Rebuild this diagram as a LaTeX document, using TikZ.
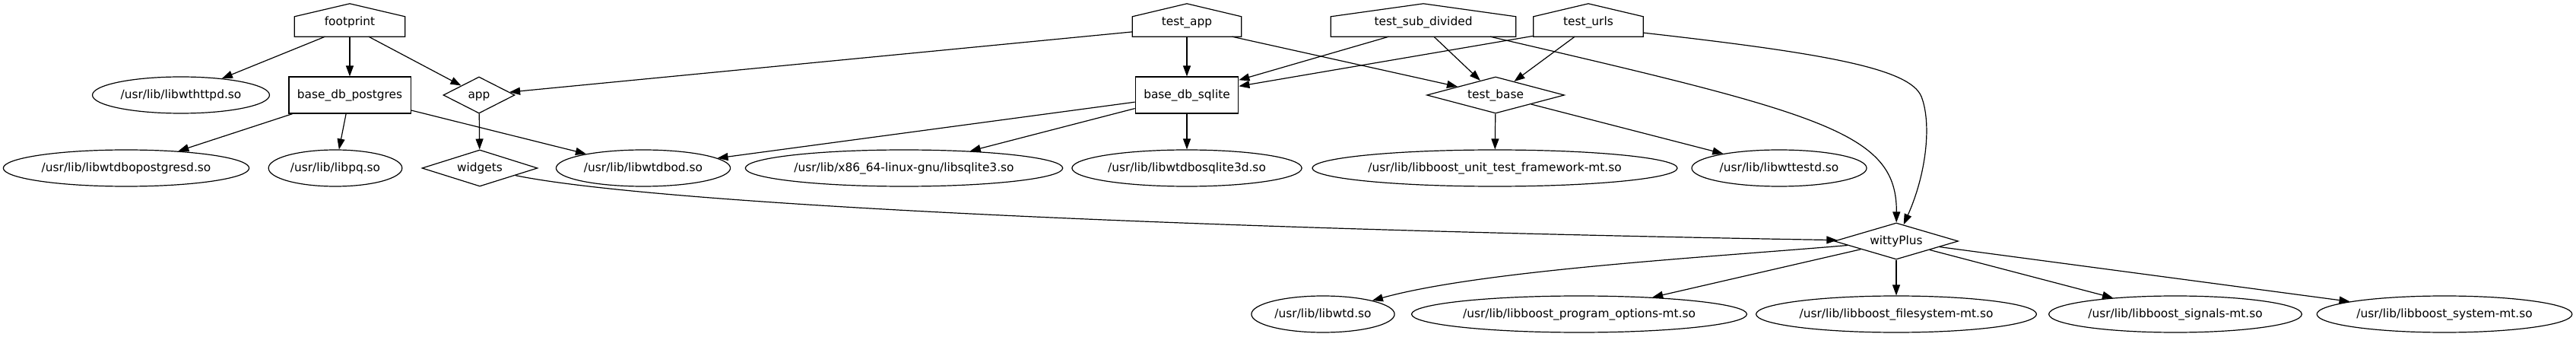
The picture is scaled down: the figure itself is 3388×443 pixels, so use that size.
\documentclass[tikz,border=0pt]{standalone}
\usepackage{fontspec}
\setmainfont{DejaVu Sans}
\usepackage{tikz}
\usetikzlibrary{shapes.geometric,arrows.meta,calc}
\definecolor{Ink}{HTML}{000000}
\definecolor{Paper}{HTML}{FFFFFF}

\tikzset{
	dep/.style={draw=Ink, line width=1.2pt, -{Triangle[length=14pt,width=10pt]}},
	graphfont/.style={font=\fontsize{15.4}{18}\selectfont, text=Ink},
	libfile/.style={graphfont, draw=Ink, line width=1.2pt, ellipse, inner xsep=3pt, minimum height=48pt, text height=11.8pt, text depth=3.6pt},
	dbbox/.style={graphfont, draw=Ink, line width=1.2pt, rectangle, inner xsep=11pt, minimum height=48pt, text height=11.8pt, text depth=3.6pt},
	modnode/.style={graphfont, draw=Ink, line width=1.2pt, diamond, aspect=3.2, inner sep=1pt, minimum height=48pt, text height=11.8pt, text depth=3.6pt},
	housebox/.style={graphfont, rectangle, inner sep=0pt, minimum height=26pt, text height=11.5pt, text depth=14.5pt}
}

\begin{document}
		\begin{tikzpicture}[x=1pt,y=-1pt]
			\fill[Paper] (0,0) rectangle (3388,443);
			\useasboundingbox (0,0) rectangle (3388,443);
			
			\node[housebox, minimum width=145pt] (footprint) at (460,35) {footprint};
			\node[housebox, minimum width=143pt] (testapp) at (1561,35) {test\_app};
			\node[housebox, minimum width=243pt] (testsub) at (1872,35) {test\_sub\_divided};
			\node[housebox, minimum width=144pt] (testurls) at (2089,35) {test\_urls};
			\foreach \h in {footprint,testapp,testsub,testurls}
				\draw[Ink, line width=1.2pt] (\h.south west) -- (\h.south east) -- (\h.north east) -- ([yshift=17pt]\h.north) -- (\h.north west) -- cycle;
			
			\node[libfile] (libwthttpd) at (238,125) {/usr/lib/libwthttpd.so};
			\node[dbbox] (dbpg) at (460,125) {base\_db\_postgres};
			\node[modnode, minimum width=94pt] (app) at (630,125) {app};
			\node[dbbox] (dbsqlite) at (1561,125) {base\_db\_sqlite};
			\node[modnode, minimum width=181pt] (testbase) at (1967,125) {test\_base};
			
			\node[libfile] (libwtdbopg) at (166,221) {/usr/lib/libwtdbopostgresd.so};
			\node[libfile] (libpq) at (441,221) {/usr/lib/libpq.so};
			\node[modnode, minimum width=152pt] (widgets) at (631,221) {widgets};
			\node[libfile] (libwtdbod) at (846,221) {/usr/lib/libwtdbod.so};
			\node[libfile] (libsqlite) at (1189,221) {/usr/lib/x86\_64-linux-gnu/libsqlite3.so};
			\node[libfile] (libwtdbosqlite) at (1561,221) {/usr/lib/libwtdbosqlite3d.so};
			\node[libfile] (libunittest) at (1966,221) {/usr/lib/libboost\_unit\_test\_framework-mt.so};
			\node[libfile] (libwttestd) at (2340,221) {/usr/lib/libwttestd.so};
			
			\node[modnode, minimum width=163pt] (witty) at (2494,317) {wittyPlus};
			
			\node[libfile] (libwtd) at (1740,413) {/usr/lib/libwtd.so};
			\node[libfile] (libprogopt) at (2077,413) {/usr/lib/libboost\_program\_options-mt.so};
			\node[libfile] (libfs) at (2494,413) {/usr/lib/libboost\_filesystem-mt.so};
			\node[libfile] (libsignals) at (2861,413) {/usr/lib/libboost\_signals-mt.so};
			\node[libfile] (libsystem) at (3215,413) {/usr/lib/libboost\_system-mt.so};
			
			\draw[dep] (footprint) -- (libwthttpd);
			\draw[dep] (footprint) -- (dbpg);
			\draw[dep] (footprint) -- (app);
			\draw[dep] (testapp) -- (app);
			\draw[dep] (testapp) -- (dbsqlite);
			\draw[dep] (testapp) -- (testbase);
			\draw[dep] (testsub) -- (dbsqlite);
			\draw[dep] (testsub) -- (testbase);
			\draw[dep] ([xshift=88pt]testsub.south) .. controls (2400,150) and (2495,175) .. (witty);
			\draw[dep] (testurls) -- (dbsqlite);
			\draw[dep] (testurls) -- (testbase);
			\draw[dep] (testurls) .. controls (2400,70) and (2512,90) .. (2527,127) .. controls (2540,160) and (2535,225) .. (witty);
			
			\draw[dep] (dbpg) -- (libwtdbopg);
			\draw[dep] (dbpg) -- (libpq);
			\draw[dep] (dbpg) -- (libwtdbod);
			\draw[dep] (app) -- (widgets);
			\draw[dep] (dbsqlite) -- (libwtdbod);
			\draw[dep] (dbsqlite) -- (libsqlite);
			\draw[dep] (dbsqlite) -- (libwtdbosqlite);
			\draw[dep] (testbase) -- (libunittest);
			\draw[dep] (testbase) -- (libwttestd);
			\draw[dep] (widgets) .. controls (850,266) and (1500,300) .. (witty);
			
			\draw[dep] (witty) .. controls (2250,338) and (1950,355) .. (libwtd);
			\draw[dep] (witty) -- (libprogopt);
			\draw[dep] (witty) -- (libfs);
			\draw[dep] (witty) -- (libsignals);
			\draw[dep] (witty) -- (libsystem);
		\end{tikzpicture}
\end{document}
